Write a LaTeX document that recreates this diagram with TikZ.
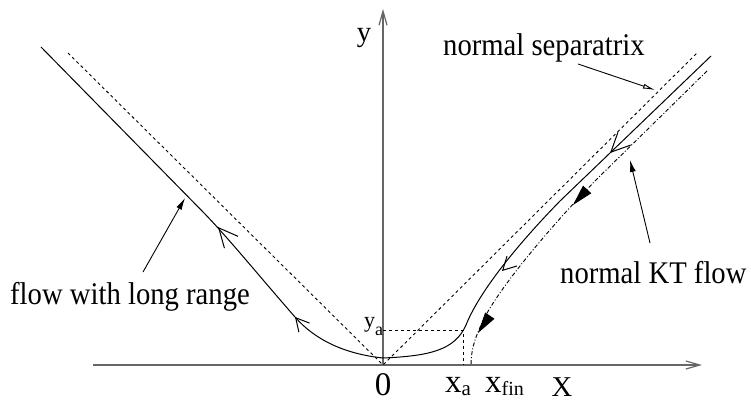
\documentclass[tikz,border=0pt]{standalone}
\usepackage{fontspec}
\setmainfont{Liberation Serif}
\usetikzlibrary{arrows.meta}
\begin{document}
\begin{tikzpicture}[x=1pt,y=-1pt,
  curve/.style={line width=1pt, line join=round},
  sep/.style={line width=0.9pt, dash pattern=on 3pt off 3pt},
  ktline/.style={line width=0.9pt, dash pattern=on 4pt off 2pt on 1pt off 2pt},
  axis/.style={line width=1.2pt, black!60, -{Straight Barb[length=14pt,width=8pt]}},
  barbA/.style={line width=1pt, -{Straight Barb[length=19pt,width=18pt]}},
  barbB/.style={line width=1pt, -{Straight Barb[length=13pt,width=14pt]}},
  filledtip/.style={line width=0.9pt, -{Triangle[length=21pt,width=11pt]}},
  ptr/.style={line width=0.9pt, -{Latex[length=12pt,width=6pt]}},
  optr/.style={line width=0.9pt, -{Latex[open,length=12pt,width=5pt]}},
  lbl/.style={inner sep=0pt, font=\fontsize{28.7}{30}\selectfont},
  txtlbl/.style={inner sep=0pt, font=\fontsize{31.5}{33}\selectfont},
  axlbl/.style={inner sep=0pt, text depth=0pt, font=\fontsize{33}{34}\selectfont}
]
\useasboundingbox (0,0) rectangle (751,401);

% axes
\coordinate (O) at (383,365);
\coordinate (xend) at (702,365);
\coordinate (xstart) at (93,365);
\coordinate (ytop) at (383,9);
\draw[axis] (xstart) -- (xend);
\draw[axis] (O) -- (ytop);

% separatrices
\coordinate (sepL) at (68,53);
\coordinate (sepR) at (697,53);
\draw[sep] (sepL) -- (O) -- (sepR);

% y_a / x_a guides
\coordinate (ya) at (383,330);
\coordinate (pa) at (463,330);
\coordinate (xa) at (463,365);
\draw[sep] (ya) -- (pa) -- (xa);

% main flow curve
\draw[curve] (711,56) -- (560,201)
  .. controls (520,242) and (480,290) .. (466,325)
  .. controls (455,350) and (430,356) .. (383,358)
  .. controls (345,354) and (315,340) .. (295,317)
  .. controls (260,277) and (230,240) .. (205,214)
  -- (41,47);

% arrowheads on main curve
\draw[barbA] (219.3,228.5) -- (218,227);
\draw[barbB] (296.3,318.5) -- (295,317);
\draw[barbA] (611.4,151.6) -- (610,153);
\draw[barbB] (502.6,270.4) -- (502,271);

% normal KT flow (dash-dot)
\draw[ktline] (707,71) -- (600,176)
  .. controls (560,216) and (505,280) .. (486,315)
  .. controls (475,336) and (471,350) .. (471,365);
\draw[filledtip] (575.0,202.8) -- (573,205);
\draw[filledtip] (479.7,330.5) -- (478,333);

% labels
\node[txtlbl, anchor=base west] (lsep) at (443,56) {\scalebox{0.91}[1]{normal separatrix}};
\node[txtlbl, anchor=base west] (llong) at (10,304) {\scalebox{0.91}[1]{flow with long range}};
\node[txtlbl, anchor=base west] (lkt) at (560,283) {\scalebox{0.91}[1]{normal KT flow}};

\coordinate (sepS) at (578,64);
\coordinate (sepT) at (655,90);
\draw[optr] (sepS) -- (sepT);
\coordinate (longS) at (143,272);
\coordinate (longT) at (185,198);
\draw[ptr] (longS) -- (longT);
\coordinate (ktS) at (650,243);
\coordinate (ktT) at (630,160);
\draw[ptr] (ktS) -- (ktT);

% axis labels
\node[lbl, anchor=base] (ylab) at (364,42) {y};
\node[lbl, anchor=base, text depth=0pt] (Xlab) at (562,396) {X};
\node[axlbl, anchor=base] (zero) at (383,395) {0};
\node[axlbl, anchor=base west] (xalab) at (445,392) {x\raisebox{-3pt}{\fontsize{21}{21}\selectfont a}};
\node[axlbl, anchor=base west] (xfinlab) at (485,392) {x\raisebox{-3pt}{\fontsize{20}{20}\selectfont fin}};
\node[inner sep=0pt, anchor=base west, font=\fontsize{22}{22}\selectfont] (yalab) at (364,327) {y\raisebox{-8pt}{\fontsize{18}{18}\selectfont a}};
\end{tikzpicture}
\end{document}
